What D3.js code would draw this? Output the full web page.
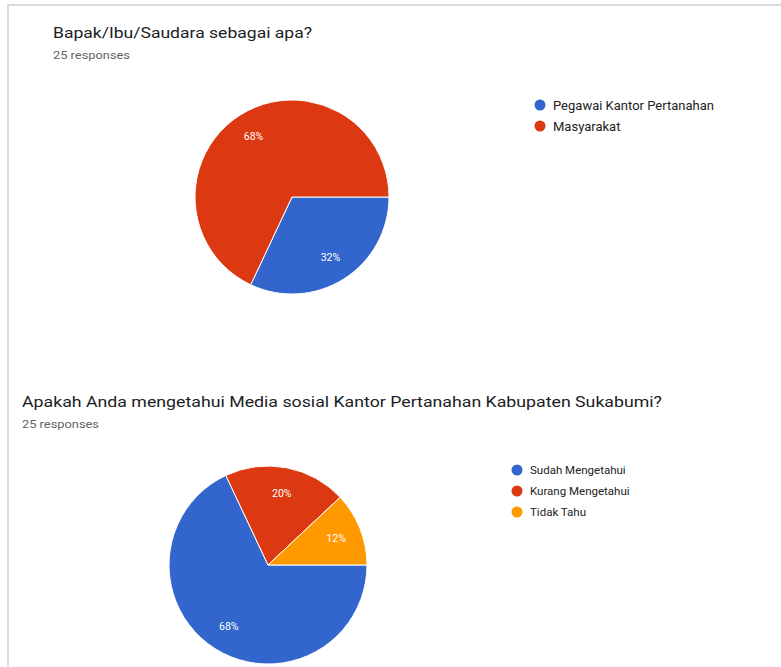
<!DOCTYPE html>
<html>
<head>
<meta charset="utf-8">
<script src="https://cdn.jsdelivr.net/npm/d3@7"></script>
<style>
  html, body { margin: 0; padding: 0; background: #fff; }
  svg { display: block; }
  text { font-family: Roboto, "Noto Sans", Arial, sans-serif; }
</style>
</head>
<body>
<svg id="chart" width="781" height="667"></svg>
<script>
// ---- Data ----
const title1 = "Bapak/Ibu/Saudara sebagai apa?";
const responses1 = "25 responses";
const categories1 = ["Pegawai Kantor Pertanahan", "Masyarakat"];
const values1 = [32, 68];
const colors1 = ["#3366cc", "#dc3912"];

const title2 = "Apakah Anda mengetahui Media sosial Kantor Pertanahan Kabupaten Sukabumi?";
const responses2 = "25 responses";
const categories2 = ["Sudah Mengetahui", "Kurang Mengetahui", "Tidak Tahu"];
const values2 = [68, 20, 12];
const colors2 = ["#3366cc", "#dc3912", "#ff9900"];

// ---- Drawing ----
const svg = d3.select("#chart");

// card border
svg.append("rect")
  .attr("x", 8).attr("y", 5)
  .attr("width", 800).attr("height", 700)
  .attr("fill", "none")
  .attr("stroke", "#dcdcdc")
  .attr("stroke-width", 2);

function drawPie(cfg) {
  const g = svg.append("g");
  g.append("text")
    .attr("x", cfg.titleX).attr("y", cfg.titleY)
    .attr("font-size", 15.5)
    .attr("fill", "#202124")
    .attr("textLength", cfg.titleW)
    .attr("lengthAdjust", "spacingAndGlyphs")
    .text(cfg.title);
  g.append("text")
    .attr("x", cfg.titleX).attr("y", cfg.titleY + 21)
    .attr("font-size", 10.5)
    .attr("fill", "#5f6368")
    .attr("textLength", 77)
    .attr("lengthAdjust", "spacingAndGlyphs")
    .text(cfg.responses);

  const pie = d3.pie().sort(null)
    .startAngle(Math.PI / 2)
    .endAngle(Math.PI / 2 + 2 * Math.PI);
  const arcs = pie(cfg.values);
  const arc = d3.arc().innerRadius(0).outerRadius(cfg.r);
  const labelArc = d3.arc().innerRadius(cfg.r * 0.74).outerRadius(cfg.r * 0.74);
  const color = d3.scaleOrdinal().domain(cfg.categories).range(cfg.colors);

  const pg = g.append("g").attr("transform", `translate(${cfg.cx},${cfg.cy})`);
  pg.selectAll("path").data(arcs).join("path")
    .attr("d", arc)
    .attr("fill", (d, i) => color(cfg.categories[i]))
    .attr("stroke", "#ffffff")
    .attr("stroke-width", 1);
  pg.selectAll("text").data(arcs).join("text")
    .attr("transform", d => `translate(${labelArc.centroid(d)})`)
    .attr("text-anchor", "middle")
    .attr("dominant-baseline", "central")
    .attr("font-size", 10.5)
    .attr("fill", "#ffffff")
    .text(d => d.data + "%");

  const lg = g.append("g");
  cfg.categories.forEach((c, i) => {
    const y = cfg.legY + i * cfg.legStep;
    lg.append("circle")
      .attr("cx", cfg.legX).attr("cy", y).attr("r", 5.5)
      .attr("fill", color(c));
    lg.append("text")
      .attr("x", cfg.legX + 13).attr("y", y)
      .attr("dominant-baseline", "central")
      .attr("font-size", cfg.legFont)
      .attr("fill", "#222")
      .text(c);
  });
}

drawPie({
  title: title1, responses: responses1, categories: categories1,
  values: values1, colors: colors1,
  titleX: 53, titleY: 38, titleW: 259, cx: 292, cy: 197, r: 97,
  legX: 540, legY: 105, legStep: 21, legFont: 13
});

drawPie({
  title: title2, responses: responses2, categories: categories2,
  values: values2, colors: colors2,
  titleX: 22, titleY: 407, titleW: 640, cx: 268, cy: 565, r: 99,
  legX: 517, legY: 470, legStep: 21, legFont: 11.5
});
</script>
</body>
</html>
